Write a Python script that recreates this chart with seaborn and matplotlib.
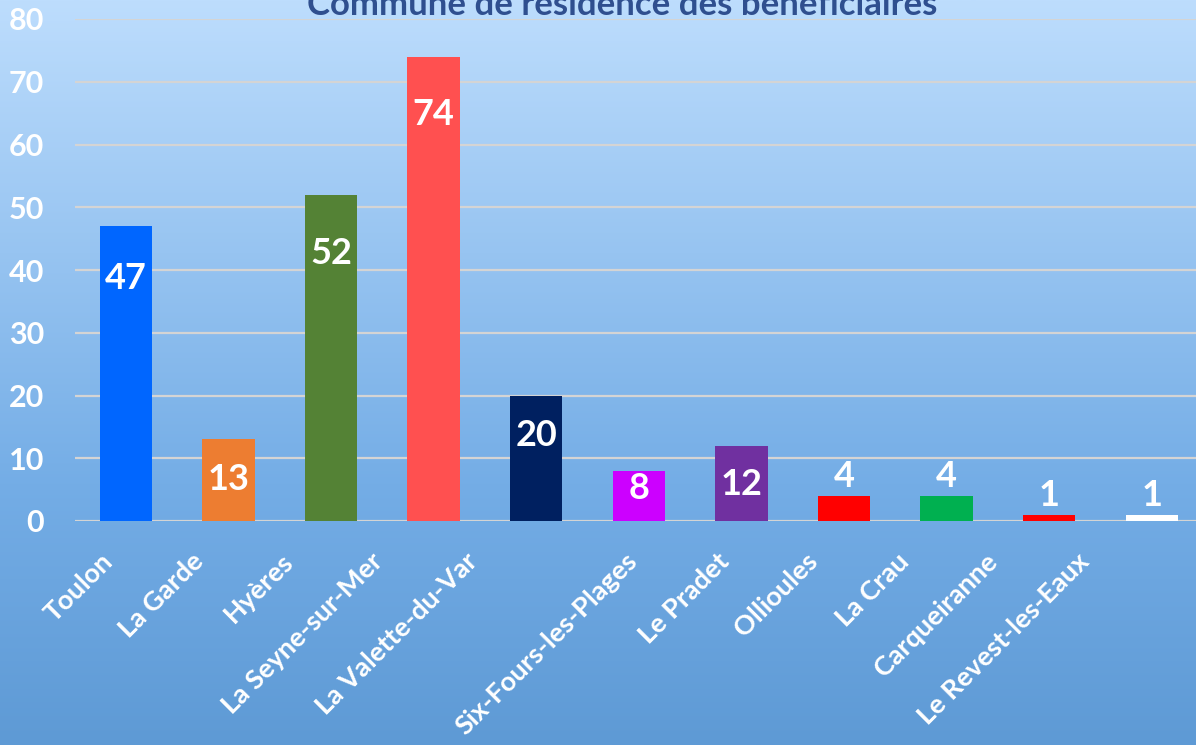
import numpy as np
import pandas as pd
import matplotlib
matplotlib.use("Agg")
import matplotlib.pyplot as plt
from matplotlib.colors import LinearSegmentedColormap
import seaborn as sns

communes = ["Toulon", "La Garde", "Hyères", "La Seyne-sur-Mer", "La Valette-du-Var",
            "Six-Fours-les-Plages", "Le Pradet", "Ollioules", "La Crau",
            "Carqueiranne", "Le Revest-les-Eaux"]
beneficiaires = [47, 13, 52, 74, 20, 8, 12, 4, 4, 1, 1]
bar_colors = ["#0066FF", "#ED7D31", "#548235", "#FF5050", "#002060", "#CC00FF",
              "#7030A0", "#FF0000", "#00B050", "#FF0000", "#FFFFFF"]
y_ticks = [0, 10, 20, 30, 40, 50, 60, 70, 80]
title = "Commune de résidence des bénéficiaires"
# value-label offsets (points) relative to bar top: negative = inside
label_offsets = [-38, -29, -42, -42, -29, -13, -28, 14, 14, 14, 14]
# horizontal shift (points) of each category label's end relative to its bar
xlabel_shift = [-18, -27, -36, -46, -51, -10, -18, -28, -36, -46, -54]

sns.set_theme(style="white")
plt.rcParams['font.family'] = ['Lato', 'DejaVu Sans']

df = pd.DataFrame({"commune": communes, "n": beneficiaires})

W, H = 1196, 745
fig = plt.figure(figsize=(W / 100, H / 100), dpi=100)

# gradient background
bg = fig.add_axes([0, 0, 1, 1], zorder=-10)
cmap = LinearSegmentedColormap.from_list("bg", [(0, "#5E9AD5"), (0.35, "#74ADE6"), (1, "#BDDDFD")])
grad = np.linspace(0, 1, 256).reshape(-1, 1)
bg.imshow(grad, aspect="auto", cmap=cmap, origin="lower", extent=[0, 1, 0, 1])
bg.axis("off")

left = 74.5 / W
right = 1203 / W
bottom = (H - 521) / H
top = (H - 19) / H
ax = fig.add_axes([left, bottom, right - left, top - bottom])
ax.patch.set_alpha(0)

sns.barplot(data=df, x="commune", y="n", hue="commune", palette=bar_colors,
            width=0.51, legend=False, ax=ax, saturation=1, zorder=3, linewidth=0)

ax.set_ylim(0, 80)
ax.set_xlim(-0.5, len(communes) - 0.5)
ax.set_yticks(y_ticks)
ax.yaxis.grid(True, color="#D4D4D4", linewidth=1.6, zorder=0)
ax.set_axisbelow(True)
for s in ax.spines.values():
    s.set_visible(False)
ax.set_xlabel("")
ax.set_ylabel("")
ax.tick_params(axis="y", length=0, pad=22, labelsize=22, labelcolor="white")
for t in ax.get_yticklabels():
    t.set_fontweight("bold")
ax.set_xticks(range(len(communes)))
ax.set_xticklabels([])
ax.tick_params(axis="x", length=0)

for i, name in enumerate(communes):
    ax.annotate(name, (i, 0), xycoords=("data", "axes fraction"),
                xytext=(xlabel_shift[i], -20), textcoords="offset points",
                rotation=45, rotation_mode="anchor", ha="right", va="top",
                fontsize=19.5, fontweight="bold", color="white", annotation_clip=False)

for i, v in enumerate(beneficiaires):
    ax.annotate(str(v), (i, v), xytext=(0, label_offsets[i]), textcoords="offset points",
                ha="center", va="center", fontsize=26, fontweight="bold", color="white",
                zorder=5)

fig.text(622 / W, (H - 15) / H, title, ha="center", va="baseline",
         fontsize=25, fontweight="bold", color="#2F4F8F")

fig.savefig("out.png", dpi=100)
